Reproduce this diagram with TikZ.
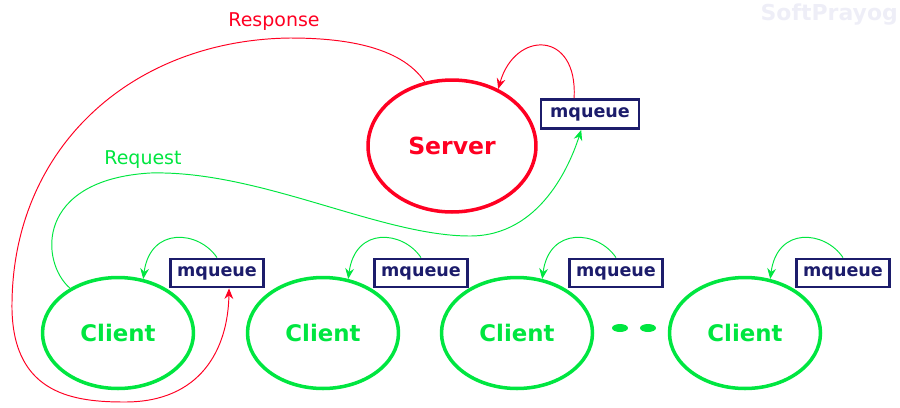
\documentclass[tikz,border=0pt]{standalone}
\usepackage{fontspec}
\setmainfont{DejaVu Sans}
\usepackage{tikz}
\usetikzlibrary{shapes.geometric,arrows.meta}
\definecolor{srvred}{HTML}{FF0022}
\definecolor{clgreen}{HTML}{00E640}
\definecolor{qnavy}{HTML}{1C1C6B}
\definecolor{mark}{HTML}{EEEEF7}
\tikzset{
  srvnode/.style={ellipse, draw=srvred, line width=2pt, text=srvred, inner sep=0pt,
    minimum width=3.36cm, minimum height=2.64cm, font=\bfseries\fontsize{13.4}{15}\selectfont},
  clnode/.style={ellipse, draw=clgreen, line width=2pt, text=clgreen, inner sep=0pt,
    minimum width=3.02cm, minimum height=2.22cm, font=\bfseries\fontsize{13}{15}\selectfont},
  qbox/.style={rectangle, draw=qnavy, line width=1.6pt, text=qnavy, inner sep=0pt,
    minimum width=1.86cm, minimum height=0.56cm, font=\bfseries\fontsize{10}{11}\selectfont},
  redline/.style={draw=srvred, line width=0.55pt, -{Stealth[length=6pt,width=5pt,inset=2pt]}},
  greenline/.style={draw=clgreen, line width=0.55pt, -{Stealth[length=6pt,width=5pt,inset=2pt]}},
  lab/.style={font=\fontsize{10.8}{13}\selectfont},
}

\begin{document}
\begin{tikzpicture}[x=0.02cm, y=-0.02cm]
\useasboundingbox (0,0) rectangle (900,407);
\node[font=\bfseries\fontsize{12.5}{14}\selectfont, text=mark, anchor=east] (wm) at (904,15) {SoftPrayog};

% server and its queue
\node[srvnode] (server) at (452,146) {Server};
\node[qbox, minimum width=1.96cm, minimum height=0.58cm] (srvq) at (590,114) {mqueue};

% clients and their queues
\node[clnode] (cl1) at (118,333) {Client};
\node[clnode] (cl2) at (323,333) {Client};
\node[clnode] (cl3) at (517,333) {Client};
\node[clnode] (cl4) at (745,333) {Client};
\node[qbox] (q1) at (217,273) {mqueue};
\node[qbox] (q2) at (421,273) {mqueue};
\node[qbox] (q3) at (616,273) {mqueue};
\node[qbox] (q4) at (843,273) {mqueue};
\node[ellipse, fill=clgreen, minimum width=0.32cm, minimum height=0.16cm, inner sep=0pt] (d1) at (620,328) {};
\node[ellipse, fill=clgreen, minimum width=0.32cm, minimum height=0.16cm, inner sep=0pt] (d2) at (648,328) {};

% queue reads
\draw[redline] (srvq.135) .. controls (578,30) and (515,30) .. (server.51);
\foreach \i in {1,2,3,4}
  \draw[greenline] (q\i.north) .. controls +(-18,-27) and +(7,-53) .. (cl\i.65);

% request: client to server queue
\draw[greenline] (cl1.137) .. controls (40,262) and (35,180) .. (150,173)
  .. controls (260,170) and (380,236) .. (470,236)
  .. controls (540,236) and (570,165) .. (srvq.-119);
\node[lab, text=clgreen] (req) at (143,160) {Request};

% response: server to client queue
\draw[redline] (server.113) .. controls (400,45) and (340,38) .. (290,38)
  .. controls (130,40) and (10,150) .. (12,310)
  .. controls (14,395) and (75,402) .. (125,402)
  .. controls (200,402) and (228,350) .. (q1.-52);
\node[lab, text=srvred] (resp) at (274,22) {Response};
\end{tikzpicture}
\end{document}
